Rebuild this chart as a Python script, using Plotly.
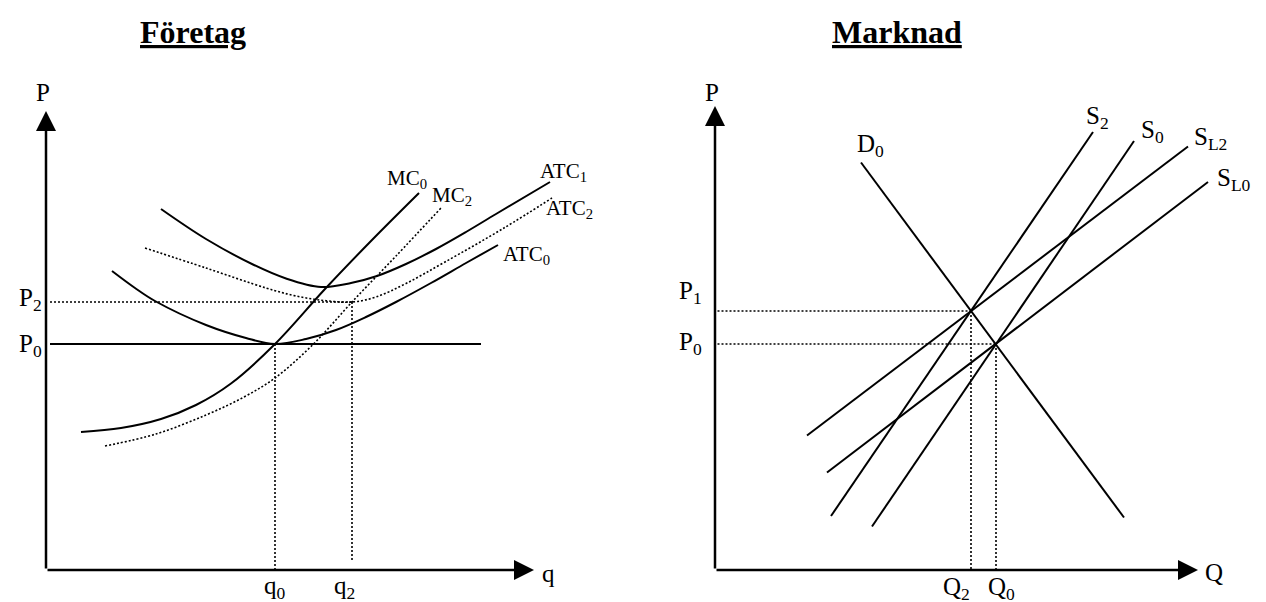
import plotly.graph_objects as go

# ---------------- Data: Företag (firm) ----------------
firm_P0 = 45.2
firm_P2 = 53.6
firm_q0 = 45.8
firm_q2 = 61.2
firm_q_max = 97.6
firm_p_max = 91.8

mc0_q = [7, 15, 23, 30, 37, 45.8, 55.8, 65, 74.6]
mc0_p = [27.6, 28.4, 30.2, 33.0, 37.3, 45.2, 56.2, 65.8, 75.4]
mc2_q = [11.8, 22, 32, 39.6, 45.8, 53.5, 61.2, 70, 79]
mc2_p = [24.8, 27.2, 31, 34.6, 38.4, 45.2, 53.6, 62.8, 72.4]
atc0_q = [13.2, 17.8, 21.8, 32, 40, 45.8, 52, 58, 64, 70, 77, 84, 90.4]
atc0_p = [59.8, 56.4, 53.8, 49, 46.4, 45.2, 46.2, 48, 50.6, 53.6, 57.4, 61.4, 65]
atc1_q = [23, 32, 41.6, 48, 55, 61, 66.2, 72, 78, 84, 90, 100.8]
atc1_p = [72.2, 66.2, 61, 58.3, 56.6, 57.4, 58.8, 61.2, 64.2, 67.6, 71.2, 77.6]
atc2_q = [19.8, 32, 44, 50, 56, 61.2, 66, 72, 79.8, 91.6, 101.2]
atc2_p = [64.4, 60.4, 56.4, 54.8, 53.85, 53.6, 54.6, 57.3, 61.6, 68.4, 74.4]
firm_p0_line_q = [0.8, 87]

# ---------------- Data: Marknad (market) ----------------
mkt_P0 = 45.2
mkt_P1 = 51.8
mkt_Q2 = 51.2
mkt_Q0 = 56.2
mkt_q_max = 96.6
mkt_p_max = 92.8

d0_q = [29.2, 81.8]
d0_p = [81.5, 10.5]
s2_q = [23.2, 75.6]
s2_p = [10.8, 87.6]
s0_q = [31.4, 83.8]
s0_p = [8.7, 85.8]
sl2_q = [18.4, 94.6]
sl2_p = [26.9, 84.7]
sl0_q = [22.4, 98.6]
sl0_p = [19.5, 77.6]

FONT = "Liberation Serif, Times New Roman, serif"
solid = dict(color="black", width=2)
dotted = dict(color="black", width=1.6, dash="2px,2px")

fig = go.Figure()

def add_line(x, y, line, xa="x", ya="y", spline=False):
    fig.add_trace(go.Scatter(
        x=x, y=y, mode="lines", xaxis=xa, yaxis=ya,
        line=dict(**line, shape="spline" if spline else "linear"),
        hoverinfo="skip", showlegend=False))

# Firm panel curves
add_line(mc0_q, mc0_p, solid, spline=True)
add_line(mc2_q, mc2_p, dotted, spline=True)
add_line(atc0_q, atc0_p, solid, spline=True)
add_line(atc1_q, atc1_p, solid, spline=True)
add_line(atc2_q, atc2_p, dotted, spline=True)
add_line(firm_p0_line_q, [firm_P0, firm_P0], solid)
add_line([0.8, firm_q2], [firm_P2, firm_P2], dotted)
add_line([firm_q0, firm_q0], [firm_P0, 0], dotted)
add_line([firm_q2, firm_q2], [firm_P2, 2], dotted)

# Market panel curves
for qx, py in [(d0_q, d0_p), (s2_q, s2_p), (s0_q, s0_p), (sl2_q, sl2_p), (sl0_q, sl0_p)]:
    add_line(qx, py, solid, "x2", "y2")
add_line([0.5, mkt_Q2], [mkt_P1, mkt_P1], dotted, "x2", "y2")
add_line([0.5, mkt_Q0], [mkt_P0, mkt_P0], dotted, "x2", "y2")
add_line([mkt_Q2, mkt_Q2], [mkt_P1, 0], dotted, "x2", "y2")
add_line([mkt_Q0, mkt_Q0], [mkt_P0, 0], dotted, "x2", "y2")

annotations = []

def arrow(x, y, xa, ya):
    annotations.append(dict(
        x=x, y=y, ax=0, ay=0, xref=xa, yref=ya, axref=xa, ayref=ya,
        text="", showarrow=True, arrowhead=2, arrowwidth=2.5, arrowsize=1.6,
        arrowcolor="black", standoff=0, startstandoff=0))

arrow(0, firm_p_max, "x", "y")
arrow(firm_q_max, 0, "x", "y")
arrow(0, mkt_p_max, "x2", "y2")
arrow(mkt_q_max, 0, "x2", "y2")

def label(text, x, y, xa, ya, size=25, xanchor="center"):
    annotations.append(dict(
        x=x, y=y, xref=xa, yref=ya, text=text, showarrow=False,
        xanchor=xanchor, yanchor="middle",
        font=dict(family=FONT, size=size, color="black")))

# Titles
label("<b><u>Företag</u></b>", 29.4, 107.6, "x", "y", size=32)
label("<b><u>Marknad</u></b>", 36.4, 107.6, "x2", "y2", size=32)

# Firm labels
label("P", -0.6, 95.6, "x", "y")
label("q", 100.4, -0.6, "x", "y")
label("P<sub>2</sub>", -3.2, 54.2, "x", "y")
label("P<sub>0</sub>", -3.2, 45.0, "x", "y")
label("q<sub>0</sub>", 45.8, -3.5, "x", "y")
label("q<sub>2</sub>", 59.6, -3.5, "x", "y")
label("MC<sub>0</sub>", 72.2, 78.2, "x", "y", size=21)
label("MC<sub>2</sub>", 81.2, 74.8, "x", "y", size=21)
label("ATC<sub>1</sub>", 103.4, 79.6, "x", "y", size=21)
label("ATC<sub>2</sub>", 104.6, 72.2, "x", "y", size=21)
label("ATC<sub>0</sub>", 96.0, 63.0, "x", "y", size=21)

# Market labels
label("P", -0.6, 95.6, "x2", "y2")
label("Q", 99.8, -0.4, "x2", "y2")
label("P<sub>1</sub>", -5.0, 55.6, "x2", "y2")
label("P<sub>0</sub>", -5.0, 45.4, "x2", "y2")
label("Q<sub>2</sub>", 48.2, -3.6, "x2", "y2")
label("Q<sub>0</sub>", 57.2, -3.6, "x2", "y2")
label("D<sub>0</sub>", 31.0, 85.0, "x2", "y2")
label("S<sub>2</sub>", 76.4, 90.6, "x2", "y2")
label("S<sub>0</sub>", 87.4, 87.8, "x2", "y2")
label("S<sub>L2</sub>", 99.0, 86.4, "x2", "y2")
label("S<sub>L0</sub>", 103.8, 78.2, "x2", "y2")

hidden = dict(visible=False, showgrid=False, zeroline=False, fixedrange=True)
fig.update_layout(
    width=1266, height=602,
    margin=dict(l=0, r=0, t=0, b=0),
    paper_bgcolor="white", plot_bgcolor="white",
    showlegend=False,
    xaxis=dict(domain=[0, 0.5], range=[-7.6, 119.0], **hidden),
    yaxis=dict(domain=[0, 1], range=[-8.0, 112.4], **hidden),
    xaxis2=dict(domain=[0.5, 1], range=[-14.8, 111.8], anchor="y2", **hidden),
    yaxis2=dict(domain=[0, 1], range=[-8.0, 112.4], anchor="x2", **hidden),
    annotations=annotations,
)

fig.write_html("out.html")
